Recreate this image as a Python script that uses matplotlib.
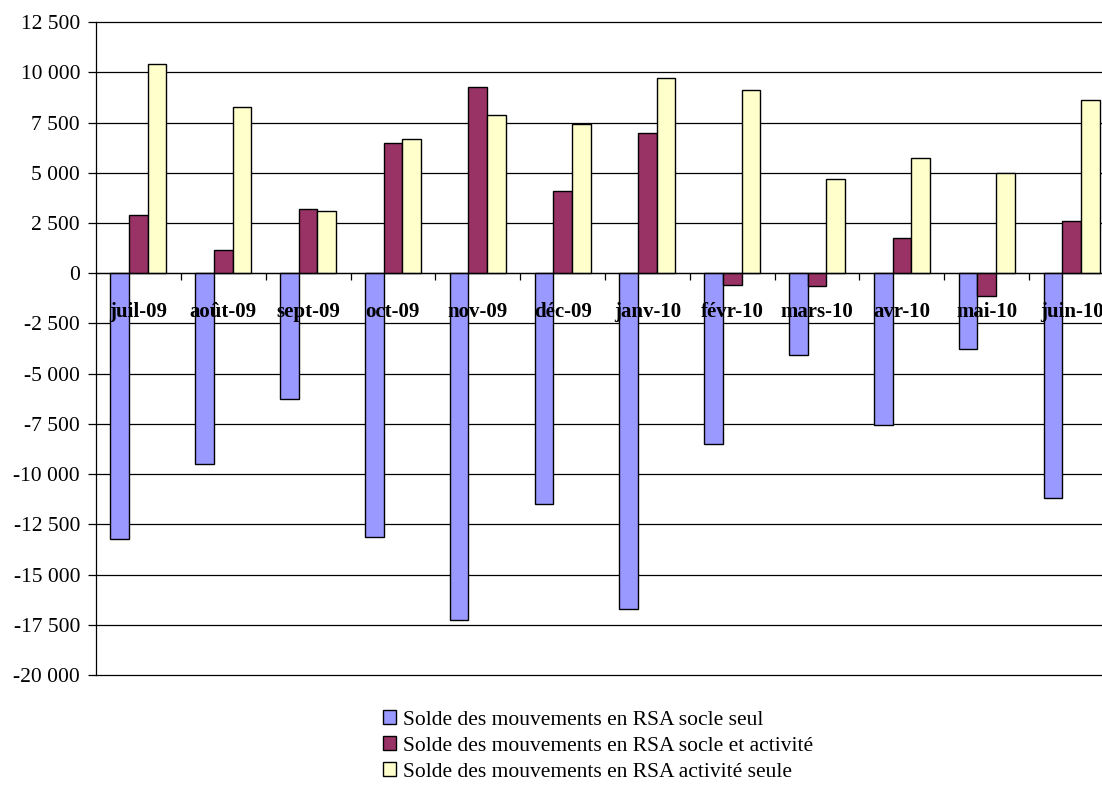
import numpy as np
import matplotlib
matplotlib.use("Agg")
import matplotlib.pyplot as plt
from matplotlib.ticker import FuncFormatter, MultipleLocator, FixedLocator
from matplotlib.patches import Patch

months = ["juil-09", "août-09", "sept-09", "oct-09", "nov-09", "déc-09",
          "janv-10", "févr-10", "mars-10", "avr-10", "mai-10", "juin-10"]
socle_seul = [-13250, -9500, -6250, -13150, -17250, -11500,
              -16700, -8500, -4050, -7550, -3750, -11200]
socle_activite = [2900, 1150, 3200, 6500, 9250, 4100,
                  7000, -600, -650, 1750, -1150, 2600]
activite_seule = [10400, 8300, 3100, 6700, 7900, 7450,
                  9700, 9100, 4700, 5750, 5000, 8650]
series_names = ["Solde des mouvements en RSA socle seul",
                "Solde des mouvements en RSA socle et activité",
                "Solde des mouvements en RSA activité seule"]
colors = ["#9999FF", "#993366", "#FFFFCC"]

plt.rcParams["font.family"] = ["Liberation Serif", "DejaVu Serif"]

W, H = 1102, 785
fig = plt.figure(figsize=(W / 100, H / 100), dpi=100)
ax = fig.add_axes([96 / W, 1 - 675 / H, 1018 / W, (675 - 22.2) / H])

x = np.arange(len(months))
bw = 0.22
for k, vals in enumerate([socle_seul, socle_activite, activite_seule]):
    ax.bar(x + (k - 1) * bw, vals, bw, color=colors[k],
           edgecolor="black", linewidth=1.0, zorder=2)

ax.set_xlim(-0.5, len(months) - 0.5)
ax.set_ylim(-20000, 12500)
ax.yaxis.set_major_locator(MultipleLocator(2500))
ax.yaxis.set_major_formatter(
    FuncFormatter(lambda v, p: f"{v:,.0f}".replace(",", " ")))
ax.yaxis.grid(True, color="black", linewidth=0.9)
ax.set_axisbelow(True)
for gl in ax.get_ygridlines():
    gl.set_clip_on(False)

# category axis sits on the zero line, ticks between groups
ax.spines["bottom"].set_position(("data", 0))
ax.spines["bottom"].set_linewidth(0.9)
ax.spines["left"].set_linewidth(0.9)
ax.spines["top"].set_visible(False)
ax.spines["right"].set_visible(False)
ax.xaxis.set_major_locator(FixedLocator(x[:-1] + 0.5))
ax.xaxis.set_ticklabels([])
ax.tick_params(axis="x", direction="out", length=5, width=0.9)
ax.tick_params(axis="y", direction="out", length=5.5, width=0.9, pad=6,
               labelsize=15.5)

for i, m in enumerate(months):
    ax.annotate(m, (i, 0), xytext=(0, -28), textcoords="offset points",
                ha="center", va="center", fontsize=15, fontweight="bold",
                zorder=5)

handles = [Patch(facecolor=c, edgecolor="black", linewidth=1.0) for c in colors]
fig.legend(handles, series_names, loc="center left",
           bbox_to_anchor=(382.7 / W, 1 - 746 / H), frameon=False,
           fontsize=15.5, handlelength=0.6, handleheight=0.6,
           handletextpad=0.35, labelspacing=0.3, borderpad=0,
           borderaxespad=0)

fig.savefig("out.png", dpi=100)
